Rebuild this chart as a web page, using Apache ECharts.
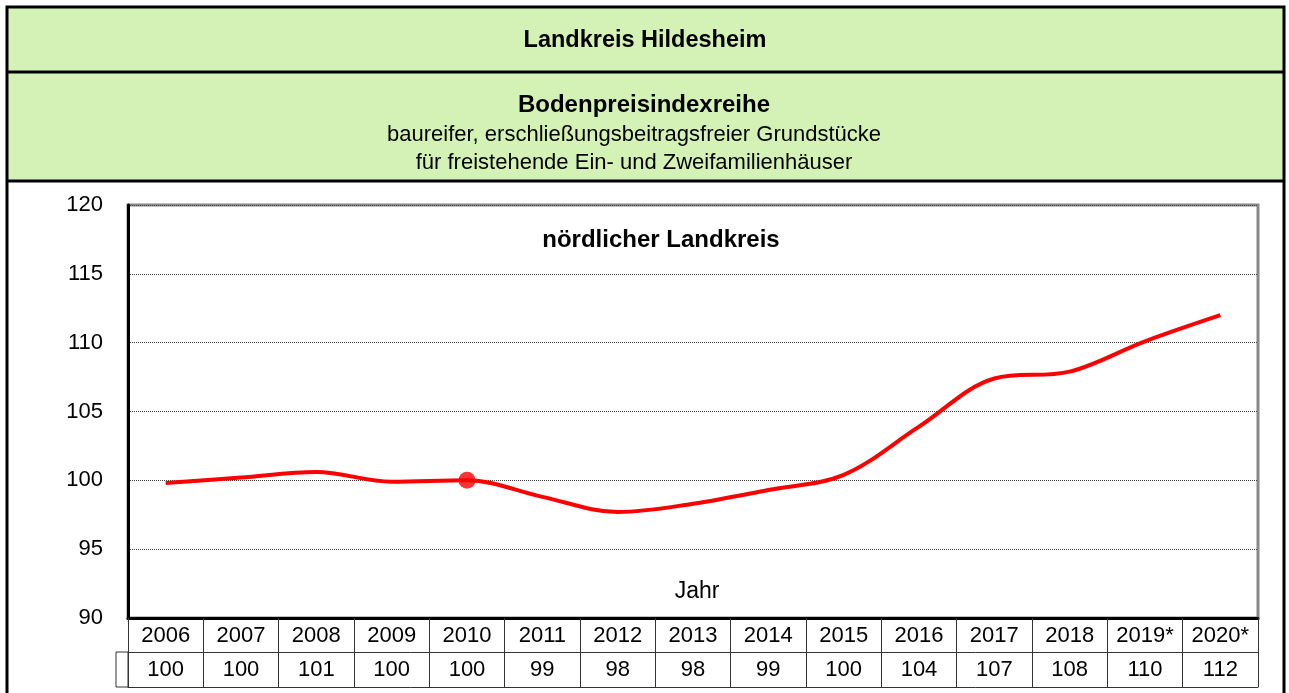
<!DOCTYPE html>
<html>
<head>
<meta charset="utf-8">
<script src="https://cdn.jsdelivr.net/npm/echarts@6/dist/echarts.min.js"></script>
<style>
	html, body { margin:0; padding:0; background:#fff; }
	#chart { width:1289px; height:693px; }
</style>
</head>
<body>
<div id="chart"></div>
<script>
var years = ['2006','2007','2008','2009','2010','2011','2012','2013','2014','2015','2016','2017','2018','2019*','2020*'];
// curve as drawn (unrounded index)
var lineValues = [99.8, 100.2, 100.6, 99.9, 100, 98.8, 97.7, 98.3, 99.3, 100.4, 103.9, 107.4, 107.9, 110.1, 112];
// rounded values shown in the table row
var tableValues = ['100','100','101','100','100','99','98','98','99','100','104','107','108','110','112'];
var baseYear = '2010';
var yTicks = [90, 95, 100, 105, 110, 115, 120];

var font = 'Arial, "Liberation Sans", sans-serif';
var green = '#d4f1b6';

var chart = echarts.init(document.getElementById('chart'));

var markerData = lineValues.map(function(v, i){
	return years[i] === baseYear ? v : '-';
});

var option = {
	backgroundColor:'#fff',
	animation:false,
	grid:{
		left:128,
		right:31,
		top:205,
		bottom:75,
		show:true,
		borderColor:'#888',
		borderWidth:3,
		backgroundColor:'#fff'
	},
	xAxis:[{
		type:'category',
		data:years,
		boundaryGap:true,
		axisLine:{ show:true, lineStyle:{ color:'#000', width:3 } },
		axisTick:{ show:true, interval:0, length:34, lineStyle:{ color:'#333', width:1 } },
		axisLabel:{ interval:0, margin:7, color:'#000', fontSize:22, fontFamily:font }
	}, {
		type:'category',
		data:tableValues,
		position:'bottom',
		offset:34,
		boundaryGap:true,
		axisLine:{ show:true, lineStyle:{ color:'#333', width:1 } },
		axisTick:{ show:true, interval:0, length:35, lineStyle:{ color:'#333', width:1 } },
		axisLabel:{ interval:0, margin:7, color:'#000', fontSize:22, fontFamily:font }
	}, {
		type:'category',
		data:tableValues,
		position:'bottom',
		offset:69,
		axisLine:{ show:true, lineStyle:{ color:'#333', width:1 } },
		axisTick:{ show:false },
		axisLabel:{ show:false }
	}],
	yAxis:{
		type:'value',
		min:yTicks[0],
		max:yTicks[yTicks.length - 1],
		interval:5,
		axisLine:{ show:true, lineStyle:{ color:'#000', width:3 } },
		axisTick:{ show:false },
		axisLabel:{ margin:25, color:'#000', fontSize:22, fontFamily:font },
		splitLine:{ show:true, lineStyle:{ color:'#444', width:1, type:'dotted' } }
	},
	series:[{
		type:'line',
		data:lineValues,
		smooth:0.35,
		symbol:'none',
		lineStyle:{ color:'#ff0000', width:4 },
		z:3
	}, {
		type:'scatter',
		data:markerData,
		symbol:'circle',
		symbolSize:17,
		itemStyle:{ color:'#ff0000' },
		z:4
	}],
	graphic:[
		{ type:'rect', shape:{ x:6, y:7, width:1279, height:174 }, style:{ fill:green }, z:-1 },
		{ type:'line', shape:{ x1:6, y1:72, x2:1285, y2:72 }, style:{ stroke:'#000', lineWidth:3 } },
		{ type:'line', shape:{ x1:6, y1:181, x2:1285, y2:181 }, style:{ stroke:'#000', lineWidth:3 } },
		{ type:'rect', shape:{ x:7, y:7, width:1277, height:700 }, style:{ fill:null, stroke:'#000', lineWidth:3 } },
		{ type:'rect', shape:{ x:116, y:652, width:12, height:35 }, style:{ fill:null, stroke:'#333', lineWidth:1 } },
		{ type:'text', x:645, y:41, style:{ text:'Landkreis Hildesheim', font:'bold 23.5px ' + font, fill:'#000', textAlign:'center', textVerticalAlign:'middle' } },
		{ type:'text', x:644, y:105, style:{ text:'Bodenpreisindexreihe', font:'bold 24px ' + font, fill:'#000', textAlign:'center', textVerticalAlign:'middle' } },
		{ type:'text', x:634, y:135, style:{ text:'baureifer, erschließungsbeitragsfreier Grundstücke', font:'22px ' + font, fill:'#000', textAlign:'center', textVerticalAlign:'middle' } },
		{ type:'text', x:634, y:163, style:{ text:'für freistehende Ein- und Zweifamilienhäuser', font:'22px ' + font, fill:'#000', textAlign:'center', textVerticalAlign:'middle' } },
		{ type:'text', x:661, y:240, style:{ text:'nördlicher Landkreis', font:'bold 24px ' + font, fill:'#000', textAlign:'center', textVerticalAlign:'middle' } },
		{ type:'text', x:697, y:592, style:{ text:'Jahr', font:'23px ' + font, fill:'#000', textAlign:'center', textVerticalAlign:'middle' } }
	]
};

chart.setOption(option);
</script>
</body>
</html>
